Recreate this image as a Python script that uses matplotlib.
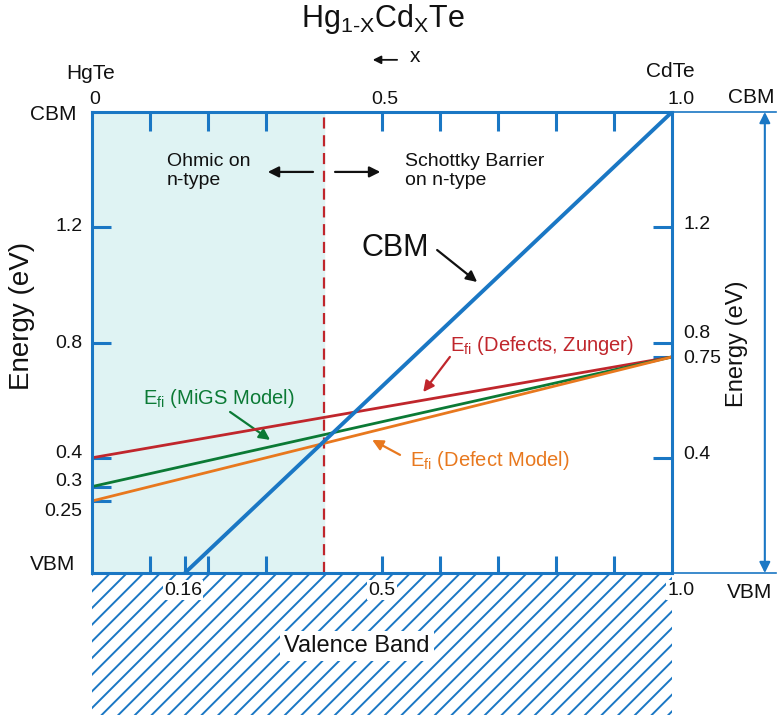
import matplotlib
matplotlib.use("Agg")
import matplotlib.pyplot as plt
from matplotlib.patches import Rectangle

plt.rcParams['font.family'] = ['Liberation Sans', 'DejaVu Sans']
plt.rcParams['mathtext.fontset'] = 'custom'
plt.rcParams['mathtext.rm'] = 'Liberation Sans'
plt.rcParams['mathtext.it'] = 'Liberation Sans:italic'
plt.rcParams['hatch.linewidth'] = 1.4

# composition x (HgTe -> CdTe) and energies in eV above VBM
comp = [0.0, 1.0]
ef_zunger = [0.40, 0.75]
ef_migs = [0.30, 0.75]
ef_defect = [0.25, 0.75]
cbm_x = [0.16, 1.0]
cbm_e = [0.0, 1.6]
x_ohmic = 0.40
e_max = 1.6

left_ticks = [0.25, 0.3, 0.4, 0.8, 1.2]
right_ticks = [0.4, 0.75, 0.8, 1.2]
top_ticks = [0.1, 0.2, 0.3, 0.5, 0.6, 0.7, 0.8, 0.9]
bottom_ticks = [0.1, 0.16, 0.2, 0.3, 0.5, 0.6, 0.7, 0.8, 0.9]

BLUE = '#1a77c4'
RED = '#c0262c'
GREEN = '#0b7a35'
ORANGE = '#e8781e'
FILL = '#dff3f3'

fig = plt.figure(figsize=(7.78, 7.17), dpi=100)
ax = fig.add_axes([0.1183, 0.2008, 0.7455, 0.643])
ax.set_xlim(0, 1)
ax.set_ylim(0, e_max)

# regions
ax.axvspan(0, x_ohmic, color=FILL, zorder=0)
ax.axvline(x_ohmic, color=RED, lw=1.6, ls=(0, (5, 3)), zorder=3)

# valence band hatch below the plot
vb = Rectangle((0, -0.493), 1.0, 0.493, facecolor='white', edgecolor=BLUE,
               hatch='//', lw=0, clip_on=False, zorder=1)
ax.add_patch(vb)

# lines
ax.plot(comp, ef_zunger, color=RED, lw=2.0, zorder=4)
ax.plot(comp, ef_migs, color=GREEN, lw=2.0, zorder=4)
ax.plot(comp, ef_defect, color=ORANGE, lw=2.0, zorder=4)
ax.plot(cbm_x, cbm_e, color=BLUE, lw=2.8, zorder=5, solid_capstyle='butt')

# spines and ticks
for s in ax.spines.values():
    s.set_color(BLUE)
    s.set_linewidth(2.2)
    s.set_zorder(6)
ax.set_xticks(bottom_ticks)
ax.set_yticks(left_ticks)
ax.tick_params(axis='both', direction='in', color=BLUE, width=2.2,
               labelbottom=False, labelleft=False)
ax.tick_params(axis='x', length=12)
ax.tick_params(axis='y', length=14)
sec_top = ax.secondary_xaxis('top')
sec_top.set_xticks(top_ticks)
sec_top.tick_params(direction='in', color=BLUE, width=2.2, length=14, labeltop=False)
sec_top.spines['top'].set_visible(False)
sec_right = ax.secondary_yaxis('right')
sec_right.set_yticks(right_ticks)
sec_right.tick_params(direction='in', color=BLUE, width=2.2, length=14, labelright=False)
sec_right.spines['right'].set_visible(False)

# extended band edge lines and double arrow on the right
ax.plot([1.0, 1.179], [e_max, e_max], color=BLUE, lw=1.2, clip_on=False)
ax.plot([1.0, 1.179], [0, 0], color=BLUE, lw=1.2, clip_on=False)
ax.annotate('', xy=(1.160, e_max), xytext=(1.160, 0), annotation_clip=False,
            arrowprops=dict(arrowstyle='<|-|>', color=BLUE, lw=1.5, mutation_scale=16,
                            shrinkA=0, shrinkB=0))

kw = dict(clip_on=False, color='#111111')
# left tick labels
left_label_y = [0.212, 0.316, 0.416, 0.798, 1.201]
for lab, yy in zip(left_ticks, left_label_y):
    ax.text(-0.017, yy, f'{lab:g}', ha='right', va='center', fontsize=14, **kw)
ax.text(-0.026, 1.590, 'CBM', ha='right', va='center', fontsize=15, **kw)
ax.text(-0.029, 0.028, 'VBM', ha='right', va='center', fontsize=15, **kw)
ax.text(-0.121, 0.892, 'Energy (eV)', rotation=90, ha='center', va='center', fontsize=20, **kw)

# right tick labels
right_label_y = [0.410, 0.746, 0.833, 1.208]
for lab, yy in zip(right_ticks, right_label_y):
    ax.text(1.019, yy, f'{lab:g}', ha='left', va='center', fontsize=14, **kw)
ax.text(1.136, 1.649, 'CBM', ha='center', va='center', fontsize=15, **kw)
ax.text(1.134, -0.066, 'VBM', ha='center', va='center', fontsize=15, **kw)
ax.text(1.112, 0.795, 'Energy (eV)', rotation=90, ha='center', va='center', fontsize=17, **kw)

# top labels
ax.text(0.502, 1.923, r'Hg$_{\mathrm{1\text{-}X}}$Cd$_{\mathrm{X}}$Te', ha='center', va='center',
        fontsize=22, **kw)
ax.annotate('', xy=(0.484, 1.781), xytext=(0.526, 1.781), annotation_clip=False,
            arrowprops=dict(arrowstyle='-|>', color='#111111', lw=1.3, mutation_scale=12,
                            shrinkA=0, shrinkB=0))
ax.text(0.557, 1.791, 'x', ha='center', va='center', fontsize=15, **kw)
ax.text(-0.003, 1.735, 'HgTe', ha='center', va='center', fontsize=15, **kw)
ax.text(0.997, 1.739, 'CdTe', ha='center', va='center', fontsize=15, **kw)
for xx, lab in zip([0.005, 0.505, 1.016], ['0', '0.5', '1.0']):
    ax.text(xx, 1.645, lab, ha='center', va='center', fontsize=14, **kw)

# bottom labels
for xx, lab in zip([0.157, 0.50, 1.016], ['0.16', '0.5', '1.0']):
    ax.text(xx, -0.059, lab, ha='center', va='center', fontsize=14, zorder=3,
            bbox=dict(facecolor='white', edgecolor='none', pad=1.0), **kw)
ax.text(0.457, -0.253, 'Valence Band', ha='center', va='center', fontsize=17, zorder=3,
        bbox=dict(facecolor='white', edgecolor='none', pad=3.0), **kw)

# region notes
ax.text(0.129, 1.395, 'Ohmic on\nn-type', ha='left', va='center', fontsize=14,
        linespacing=1.15, **kw)
ax.text(0.540, 1.395, 'Schottky Barrier\non n-type', ha='left', va='center', fontsize=14,
        linespacing=1.15, **kw)
arrow_black = dict(arrowstyle='-|>', color='#111111', lw=1.6, mutation_scale=16,
                   shrinkA=0, shrinkB=0)
ax.annotate('', xy=(0.303, 1.392), xytext=(0.381, 1.392), arrowprops=arrow_black)
ax.annotate('', xy=(0.497, 1.392), xytext=(0.419, 1.392), arrowprops=arrow_black)

# curve labels
ax.text(0.522, 1.128, 'CBM', ha='center', va='center', fontsize=22, **kw)
ax.annotate('', xy=(0.664, 1.010), xytext=(0.595, 1.121), arrowprops=arrow_black)

def label_arrow(text, txy, tail, tip, color):
    ax.text(txy[0], txy[1], text, ha='center', va='center', fontsize=14.5, color=color)
    ax.annotate('', xy=tip, xytext=tail,
                arrowprops=dict(arrowstyle='-|>', color=color, lw=1.6, mutation_scale=16,
                                shrinkA=0, shrinkB=0))

label_arrow(r'E$_{\mathrm{fi}}$ (Defects, Zunger)', (0.776, 0.791), (0.617, 0.750), (0.571, 0.628), RED)
label_arrow(r'E$_{\mathrm{fi}}$ (MiGS Model)', (0.218, 0.607), (0.238, 0.559), (0.307, 0.462), GREEN)
label_arrow(r'E$_{\mathrm{fi}}$ (Defect Model)', (0.686, 0.392), (0.531, 0.410), (0.483, 0.462), ORANGE)

fig.savefig('out.png', dpi=100)
